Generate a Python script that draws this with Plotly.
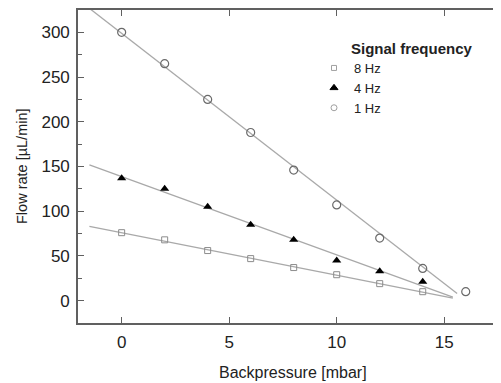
import numpy as np
import plotly.graph_objects as go

# Data
backpressure = [0, 2, 4, 6, 8, 10, 12, 14, 16]
flow_1hz = [300, 265, 225, 188, 146, 107, 70, 36, 10]
x_4hz = [0, 2, 4, 6, 8, 10, 12, 14]
flow_4hz = [137, 125, 105, 85, 68, 45, 33, 21]
x_8hz = [0, 2, 4, 6, 8, 10, 12, 14]
flow_8hz = [76, 68, 56, 47, 37, 29, 19, 10]

series_names = ["8 Hz", "4 Hz", "1 Hz"]
fit_start = -1.5
fit_end = {"8 Hz": 15.4, "4 Hz": 15.4, "1 Hz": 15.6}

x_ticks = [0, 5, 10, 15]
y_ticks = [0, 50, 100, 150, 200, 250, 300]
y_minor_ticks = [-25, 25, 75, 125, 175, 225, 275, 325]

FONT = "Liberation Sans, Arial, sans-serif"
TXT = "#222222"
LINE_COL = "#a9a9a9"
AX_COL = "#606060"

styles = {
    "8 Hz": dict(symbol="square-open", size=6, color="#8c8c8c", lw=1),
    "4 Hz": dict(symbol="triangle-up", size=8, color="#000000", lw=0),
    "1 Hz": dict(symbol="circle-open", size=8, color="#6a6a6a", lw=1.2),
}
legend_styles = {
    "8 Hz": dict(symbol="square-open", size=5, color="#a0a0a0"),
    "4 Hz": dict(symbol="triangle-up", size=7, color="#000000"),
    "1 Hz": dict(symbol="circle-open", size=6, color="#a0a0a0"),
}
data = {
    "8 Hz": (x_8hz, flow_8hz),
    "4 Hz": (x_4hz, flow_4hz),
    "1 Hz": (backpressure, flow_1hz),
}

fig = go.Figure()
for name in series_names:
    xs, ys = data[name]
    slope, intercept = np.polyfit(xs, ys, 1)
    xf = np.array([fit_start, fit_end[name]])
    fig.add_trace(go.Scatter(x=xf, y=intercept + slope * xf, mode="lines",
                             line=dict(color=LINE_COL, width=1.3),
                             showlegend=False, hoverinfo="skip"))
for name in series_names:
    xs, ys = data[name]
    s = styles[name]
    fig.add_trace(go.Scatter(x=xs, y=ys, mode="markers", showlegend=False,
                             marker=dict(symbol=s["symbol"], size=s["size"], color=s["color"],
                                         line=dict(color=s["color"], width=s["lw"]))))
for name in series_names:
    s = legend_styles[name]
    fig.add_trace(go.Scatter(x=[None], y=[None], mode="markers", name=name,
                             marker=dict(symbol=s["symbol"], size=s["size"], color=s["color"],
                                         line=dict(color=s["color"], width=1))))

# figure coordinates (page is offset by the 8px body margin)
W, H = 493, 375
L, T, B = 70, 2, 60
PW, PH = W - L, H - T - B


def px(x):
    return (x - L) / PW


def py(y):
    return (T + PH - y) / PH


fig.update_layout(
    width=W, height=H,
    margin=dict(l=L, r=0, t=T, b=B, autoexpand=False),
    paper_bgcolor="white", plot_bgcolor="white",
    font=dict(family=FONT, color=TXT),
    legend=dict(x=px(306), y=py(45), xanchor="left", yanchor="top",
                font=dict(size=13, family=FONT, color=TXT),
                bgcolor="rgba(0,0,0,0)", tracegroupgap=0, itemwidth=30),
    annotations=[
        dict(text="<b>Signal frequency</b>", xref="paper", yref="paper",
             x=px(341), y=py(40), xanchor="left", yanchor="middle",
             showarrow=False, font=dict(size=15, family=FONT, color=TXT)),
        dict(text="Backpressure [mbar]", xref="paper", yref="paper",
             x=px(284.5), y=py(364), xanchor="center", yanchor="middle",
             showarrow=False, font=dict(size=16, family=FONT, color=TXT)),
        dict(text="Flow rate [µL/min]", xref="paper", yref="paper", textangle=-90,
             x=px(13.5), y=py(T + PH / 2), xanchor="center", yanchor="middle",
             showarrow=False, font=dict(size=14.5, family=FONT, color=TXT)),
    ],
)
fig.update_xaxes(
    range=[-2.03, 17.64], tickvals=x_ticks, ticks="inside", ticklen=6, tickwidth=1.3,
    tickcolor=AX_COL, showline=True, linecolor=AX_COL, linewidth=1.6, mirror="ticks",
    showgrid=False, zeroline=False, automargin=False,
    tickfont=dict(size=17, family=FONT, color=TXT), ticklabelstandoff=3,
)
fig.update_yaxes(
    range=[-25, 325], tickvals=y_ticks, ticks="inside", ticklen=6, tickwidth=1.3,
    tickcolor=AX_COL, showline=True, linecolor=AX_COL, linewidth=1.6, mirror=False,
    showgrid=False, zeroline=False, automargin=False,
    tickfont=dict(size=17, family=FONT, color=TXT), ticklabelstandoff=3,
    minor=dict(tickvals=y_minor_ticks, ticks="inside", ticklen=4,
               tickcolor=AX_COL, tickwidth=1.2),
)

fig.write_html("out.html")
